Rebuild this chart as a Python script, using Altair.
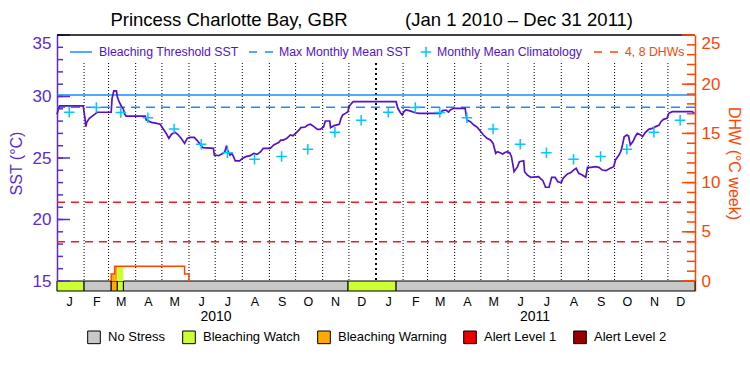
import altair as alt
import pandas as pd

START = pd.Timestamp("2010-01-01")

# ---------------- data ----------------
# SST trace: day offset from 2010-01-01 and SST (°C)
sst_days = [0, 2, 3, 30, 32, 33, 34, 37, 43, 46, 62, 63, 65, 68, 69, 71, 74, 76, 77, 79,
            101, 102, 108, 114, 118, 121, 125, 128, 131, 135, 138, 142, 146, 149, 152, 157,
            160, 163, 167, 179, 180, 185, 190, 192, 194, 195, 198, 200, 202, 204, 209, 212,
            216, 221, 225, 229, 233, 236, 244, 248, 254, 256, 259, 263, 267, 270, 273, 277,
            279, 284, 287, 290, 294, 298, 301, 305, 307, 312, 313, 317, 323, 325, 327, 330,
            333, 334, 337, 339, 388, 390, 393, 395, 397, 399, 403, 410, 414, 439, 441, 445,
            448, 450, 454, 467, 469, 473, 477, 481, 485, 488, 492, 496, 499, 502, 504, 507,
            510, 512, 515, 518, 520, 523, 527, 529, 534, 535, 538, 542, 551, 553, 556, 559,
            563, 566, 570, 573, 577, 579, 584, 588, 591, 594, 597, 601, 605, 607, 611, 616,
            620, 624, 628, 633, 637, 639, 643, 645, 647, 649, 652, 654, 656, 659, 662, 664,
            668, 670, 673, 677, 681, 685, 689, 691, 694, 698, 700, 704, 727, 729]
sst_vals = [28.55, 29.09, 29.23, 29.23, 28.23, 27.55, 27.9, 28.23, 28.55, 28.72, 28.72, 29.85,
            30.45, 30.45, 29.98, 29.58, 29.17, 28.98, 28.63, 28.41, 28.41, 28.09, 27.9, 27.82,
            27.74, 27.41, 27.0, 26.6, 26.93, 27.09, 26.93, 26.6, 26.19, 26.6, 26.68, 26.68,
            26.46, 26.19, 25.84, 25.79, 25.24, 25.19, 25.38, 25.51, 26.0, 25.65, 25.24, 25.38,
            25.11, 24.76, 24.76, 24.97, 25.11, 25.19, 25.38, 25.3, 25.51, 25.79, 25.79, 26.06,
            26.27, 26.46, 26.46, 26.6, 26.87, 26.81, 27.0, 27.28, 27.47, 27.52, 27.68, 27.74,
            27.55, 27.33, 27.33, 27.52, 28.01, 28.01, 27.47, 27.63, 27.74, 28.23, 28.5, 28.63,
            28.77, 29.17, 29.45, 29.58, 29.58, 29.04, 28.68, 28.5, 28.77, 28.9, 28.85, 28.68,
            28.63, 28.63, 28.85, 28.9, 28.74, 28.9, 29.04, 29.04, 28.09, 27.95, 27.68, 27.49,
            27.14, 26.87, 26.6, 26.46, 26.19, 25.38, 25.51, 25.43, 25.33, 25.43, 25.51, 25.43,
            25.11, 23.89, 24.3, 24.7, 24.78, 23.89, 23.62, 23.43, 23.48, 23.35, 23.16, 22.62,
            22.62, 23.43, 23.43, 23.07, 22.99, 23.35, 23.7, 23.81, 24.02, 24.16, 23.75, 23.62,
            23.43, 24.24, 24.24, 24.29, 24.24, 24.02, 23.97, 24.16, 24.29, 24.84, 25.24, 25.51,
            26.06, 26.73, 26.87, 26.79, 26.06, 26.33, 26.79, 27.0, 26.87, 26.73, 27.06, 27.33,
            27.41, 27.55, 27.68, 27.95, 28.14, 28.23, 28.63, 28.77, 28.77, 28.63]

# monthly mean climatology (Jan..Dec), plotted mid-month in both years
clim_vals = [28.72, 29.1, 28.7, 28.27, 27.35, 26.12, 25.42, 24.9, 25.13, 25.72, 27.09, 28.06]
years = [2010, 2011]

mmm_sst = 29.12
bleaching_threshold = 30.12
dhw_levels = [4, 8]

# DHW step line (day offset, DHW)
dhw_days = [62, 62, 66, 146, 151]
dhw_vals = [0.0, 0.7, 1.5, 0.7, 0.0]

# stress level bar (day offsets)
stress_start = [0, 31, 62, 69, 76, 333, 388]
stress_end = [31, 62, 69, 76, 333, 388, 730]
stress_level = ["Bleaching Watch", "No Stress", "Bleaching Warning", "Bleaching Watch",
                "No Stress", "Bleaching Watch", "No Stress"]

# coloured fill under the DHW curve
fill_start = [62, 66, 69]
fill_end = [66, 69, 76]
fill_dhw = [0.7, 1.5, 1.5]
fill_level = ["Bleaching Warning", "Bleaching Warning", "Bleaching Watch"]

stress_names = ["No Stress", "Bleaching Watch", "Bleaching Warning", "Alert Level 1", "Alert Level 2"]
stress_colors = ["#c8c8c8", "#ccff33", "#ffaa00", "#ee0000", "#990000"]

sst_major = [15, 20, 25, 30, 35]
sst_minor = list(range(15, 36))
dhw_major = [0, 5, 10, 15, 20, 25]
dhw_minor = list(range(0, 26))
year_labels = ["2010", "2011"]

# ---------------- style ----------------
FONT = "Liberation Sans"
W, H = 638, 256
PURPLE = "#5511cc"
AXP = "#5b2bd0"
ORANGE = "#ff4500"
BLUE = "#1a8cff"
CYAN = "#00c8ff"
RED = "#ee1c1c"
PLUS = "M-1,0L1,0M0,-1L0,1"


def days_to_dates(days):
    return [START + pd.Timedelta(days=d) for d in days]


x_scale = alt.Scale(domain=[alt.DateTime(year=2010, month=1, date=1),
                            alt.DateTime(year=2012, month=1, date=1)])
x_axis = alt.Axis(values=[alt.DateTime(year=y, month=m, date=15) for y in years for m in range(1, 13)],
                  labelExpr="substring(timeFormat(datum.value, '%b'), 0, 1)",
                  ticks=False, domain=False, grid=False, labelFont=FONT, labelFontSize=12.5,
                  labelColor="black", labelPadding=4, title=None, labelOverlap=False,
                  labelFlush=False)
X = alt.X("date:T", scale=x_scale, axis=x_axis)

sst_scale = alt.Scale(domain=[14.187, 35], nice=False, zero=False)
sst_axis = alt.Axis(orient="left", values=sst_major, ticks=False, grid=False, domainColor=AXP,
                    domainWidth=1.5, labelColor=AXP, labelFont=FONT, labelFontSize=17,
                    labelPadding=6, labelFlush=True, labelOverlap=False, title="SST (°C)",
                    titleColor=AXP, titleFont=FONT, titleFontSize=16, titleFontWeight="normal",
                    titlePadding=8)
Y_SST = alt.Y("v:Q", scale=sst_scale, axis=sst_axis)

dhw_scale = alt.Scale(domain=[-1.016, 25], nice=False, zero=False)
dhw_axis = alt.Axis(orient="right", values=dhw_major, ticks=False, grid=False, domainColor=ORANGE,
                    domainWidth=1.5, labelColor=ORANGE, labelFont=FONT, labelFontSize=17,
                    labelPadding=6, labelFlush=True, labelOverlap=False, title="DHW (°C week)",
                    titleColor=ORANGE, titleFont=FONT, titleFontSize=16, titleFontWeight="normal",
                    titlePadding=6)
Y_DHW = alt.Y("v:Q", scale=dhw_scale, axis=dhw_axis)

stress_color = alt.Color("level:N",
                         scale=alt.Scale(domain=stress_names, range=stress_colors),
                         legend=alt.Legend(orient="none", legendX=30, legendY=295,
                                           direction="horizontal", columns=5, title=None,
                                           symbolType="square", symbolSize=160,
                                           symbolStrokeColor="black", symbolStrokeWidth=1,
                                           labelFont=FONT, labelFontSize=13, labelColor="black",
                                           labelOffset=7, columnPadding=14))

ONE = pd.DataFrame({"a": [0]})


def text_at(text, x, y, color, size, align="left"):
    return alt.Chart(pd.DataFrame({"t": [text]})).mark_text(
        align=align, baseline="middle", font=FONT, fontSize=size, color=color
    ).encode(x=alt.value(x), y=alt.value(y), text="t:N")


def hline(x1, x2, y, color, dash=None, width=1.5):
    kw = dict(color=color, strokeWidth=width)
    if dash:
        kw["strokeDash"] = dash
    return alt.Chart(ONE).mark_rule(**kw).encode(x=alt.value(x1), x2=alt.value(x2), y=alt.value(y))


# ---------------- frames ----------------
month_lines = pd.DataFrame({"date": [d for d in pd.date_range("2010-02-01", "2011-12-01", freq="MS")
                                     if d != pd.Timestamp("2011-01-01")]})
year_line = pd.DataFrame({"date": [pd.Timestamp("2011-01-01")]})
sst_df = pd.DataFrame({"date": days_to_dates(sst_days), "v": sst_vals})
clim_df = pd.DataFrame({"date": [pd.Timestamp(y, m, 15) for y in years for m in range(1, 13)],
                        "v": clim_vals * len(years)})
stress_df = pd.DataFrame({"date": days_to_dates(stress_start), "date2": days_to_dates(stress_end),
                          "level": stress_level})
fill_df = pd.DataFrame({"date": days_to_dates(fill_start), "date2": days_to_dates(fill_end),
                        "v": fill_dhw, "v0": [0.0] * len(fill_dhw), "level": fill_level})
dhw_df = pd.DataFrame({"date": days_to_dates(dhw_days), "v": dhw_vals})
year_df = pd.DataFrame({"date": [pd.Timestamp(y, 7, 2) for y in years], "t": year_labels})

# ---------------- SST group ----------------
grid = alt.Chart(month_lines).mark_rule(color="black", strokeDash=[1, 2], strokeWidth=1).encode(
    x=X, y=alt.value(28), y2=alt.value(246))
grid_year = alt.Chart(year_line).mark_rule(color="black", strokeDash=[2, 3], strokeWidth=2).encode(
    x=X, y=alt.value(28), y2=alt.value(246))
bt_rule = alt.Chart(pd.DataFrame({"v": [bleaching_threshold]})).mark_rule(
    color=BLUE, strokeWidth=1.5).encode(y=Y_SST)
mmm_rule = alt.Chart(pd.DataFrame({"v": [mmm_sst]})).mark_rule(
    color=BLUE, strokeWidth=1.5, strokeDash=[9, 6]).encode(y=Y_SST)
sst_line = alt.Chart(sst_df).mark_line(color=PURPLE, strokeWidth=1.7).encode(x=X, y=Y_SST)
clim_pts = alt.Chart(clim_df).mark_point(shape=PLUS, size=110, filled=False, color=CYAN,
                                         strokeWidth=1.5, opacity=1).encode(x=X, y=Y_SST)
stress_bar = alt.Chart(stress_df).mark_rect(stroke="black", strokeWidth=1).encode(
    x=X, x2="date2:T", y=alt.value(246), y2=alt.value(256), color=stress_color)
lt_minor = alt.Chart(pd.DataFrame({"v": sst_minor})).mark_rule(color=AXP, strokeWidth=1.5).encode(
    y=Y_SST, x=alt.value(0), x2=alt.value(6))
lt_major = alt.Chart(pd.DataFrame({"v": sst_major})).mark_rule(color=AXP, strokeWidth=1.5).encode(
    y=Y_SST, x=alt.value(0), x2=alt.value(13))
top_border = hline(0, W, 0, "black", width=1.5)
years_txt = alt.Chart(year_df).mark_text(font=FONT, fontSize=14, color="black",
                                         baseline="middle").encode(x=X, y=alt.value(282), text="t:N")

title1 = text_at("Princess Charlotte Bay, GBR", 172, -15, "black", 18.5, "center")
title2 = text_at("(Jan 1 2010 \u2013 Dec 31 2011)", 462, -15, "black", 18.5, "center")

leg = [
    hline(13, 35, 17, BLUE),
    text_at("Bleaching Threshold SST", 42, 17, PURPLE, 12.3),
    hline(192, 216, 17, BLUE, dash=[8, 8]),
    text_at("Max Monthly Mean SST", 222, 17, PURPLE, 12.3),
    alt.Chart(ONE).mark_point(shape=PLUS, size=110, filled=False, color=CYAN, strokeWidth=1.5,
                              opacity=1).encode(x=alt.value(369), y=alt.value(17)),
    text_at("Monthly Mean Climatology", 380, 17, PURPLE, 12.3),
    hline(537, 562, 17, ORANGE, dash=[8, 8]),
    text_at("4, 8 DHWs", 568, 17, ORANGE, 12.3),
]

sst_group = alt.layer(grid, grid_year, bt_rule, mmm_rule, sst_line, clim_pts, stress_bar,
                      lt_minor, lt_major, top_border, years_txt, title1, title2, *leg)

# ---------------- DHW group ----------------
dhw_rules = alt.Chart(pd.DataFrame({"v": dhw_levels})).mark_rule(
    color=RED, strokeWidth=1.5, strokeDash=[8, 6]).encode(y=Y_DHW)
dhw_fill = alt.Chart(fill_df).mark_rect().encode(x=X, x2="date2:T", y=Y_DHW, y2="v0:Q",
                                                 color=stress_color)
dhw_line = alt.Chart(dhw_df).mark_line(color=ORANGE, strokeWidth=1.5,
                                       interpolate="step-after").encode(x=X, y=Y_DHW)
rt_minor = alt.Chart(pd.DataFrame({"v": dhw_minor})).mark_rule(color=ORANGE, strokeWidth=1.5).encode(
    y=Y_DHW, x=alt.value(W - 8), x2=alt.value(W))
rt_major = alt.Chart(pd.DataFrame({"v": dhw_major})).mark_rule(color=ORANGE, strokeWidth=1.5).encode(
    y=Y_DHW, x=alt.value(W - 13), x2=alt.value(W))

dhw_group = alt.layer(dhw_rules, dhw_fill, dhw_line, rt_minor, rt_major)

chart = alt.layer(sst_group, dhw_group).resolve_scale(y="independent").properties(
    width=W, height=H,
    autosize=alt.AutoSizeParams(type="none"),
    padding={"left": 57, "top": 35, "right": 55, "bottom": 84},
).configure_view(stroke=None)

chart.save("out.html", embed_options={"renderer": "svg", "actions": False})
